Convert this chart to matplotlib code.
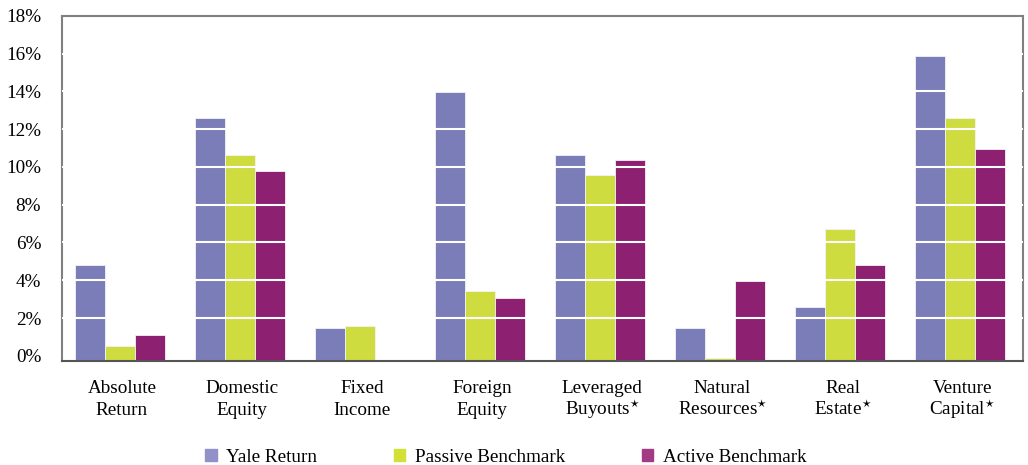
import matplotlib.pyplot as plt
import numpy as np
from matplotlib.patches import Patch

plt.rcParams['font.family'] = ['Liberation Serif', 'DejaVu Sans']
plt.rcParams['mathtext.fontset'] = 'stix'

# data (percent)
categories = ["Absolute\nReturn", "Domestic\nEquity", "Fixed\nIncome", "Foreign\nEquity",
              "Leveraged\nBuyouts$^{\\star}$", "Natural\nResources$^{\\star}$",
              "Real\nEstate$^{\\star}$", "Venture\nCapital$^{\\star}$"]
yale_return = [4.83, 12.56, 1.46, 13.98, 10.63, 1.46, 2.60, 15.86]
passive_benchmark = [0.53, 10.62, 1.56, 3.44, 9.56, -0.10, 6.70, 12.56]
active_benchmark = [1.09, 9.77, np.nan, 3.07, 10.34, 3.98, 4.83, 10.97]
y_ticks = [0, 2, 4, 6, 8, 10, 12, 14, 16, 18]

series = [("Yale Return", yale_return, "#7b7db9", "#9190c8"),
          ("Passive Benchmark", passive_benchmark, "#cedc3f", "#d3e034"),
          ("Active Benchmark", active_benchmark, "#8e2071", "#a23a85")]

fig = plt.figure(figsize=(10.28, 4.65), dpi=100)
ax = fig.add_axes([0.0603, 0.2243, 0.9346, 0.7419])

ymin = -0.26
x = np.arange(len(categories)) - 0.02
w = 0.25
for i, (name, vals, col, _) in enumerate(series):
    vals = np.array(vals, dtype=float)
    ax.bar(x + (i - 1) * w, vals - ymin, width=w, bottom=ymin, color=col,
           edgecolor="#f2f2f8", linewidth=0.6, zorder=2)

# white grid lines only visible over bars
for t in y_ticks[1:-1]:
    ax.axhline(t, color="white", linewidth=1.5, zorder=3)

ax.set_xlim(-0.5, 7.5)
ax.set_ylim(ymin, 18)
ax.set_yticks(y_ticks)
ax.set_yticklabels([f"{t}%" for t in y_ticks], fontsize=13.8)
ax.tick_params(axis="y", length=0, pad=15)
ax.set_xticks([])

# category labels, two lines each on fixed baselines
trans = ax.get_xaxis_transform()
for i, lab in enumerate(categories):
    top, bottom = lab.split("\n")
    ax.text(i, -0.094, top, transform=trans, ha="center", va="baseline", fontsize=13.8)
    ax.text(i, -0.158, bottom, transform=trans, ha="center", va="baseline", fontsize=13.8)

for s in ax.spines.values():
    s.set_color("#808080")
    s.set_linewidth(1.5)
ax.spines["bottom"].set_color("#555555")

handles = [Patch(color=c, label=n) for n, _, _, c in series]
fig.legend(handles=handles, loc="center", bbox_to_anchor=(0.492, 0.017), ncol=3,
           frameon=False, fontsize=13.8, handlelength=0.6, handleheight=0.6,
           handletextpad=0.5, columnspacing=4.0)

fig.savefig("out.png", dpi=100)
